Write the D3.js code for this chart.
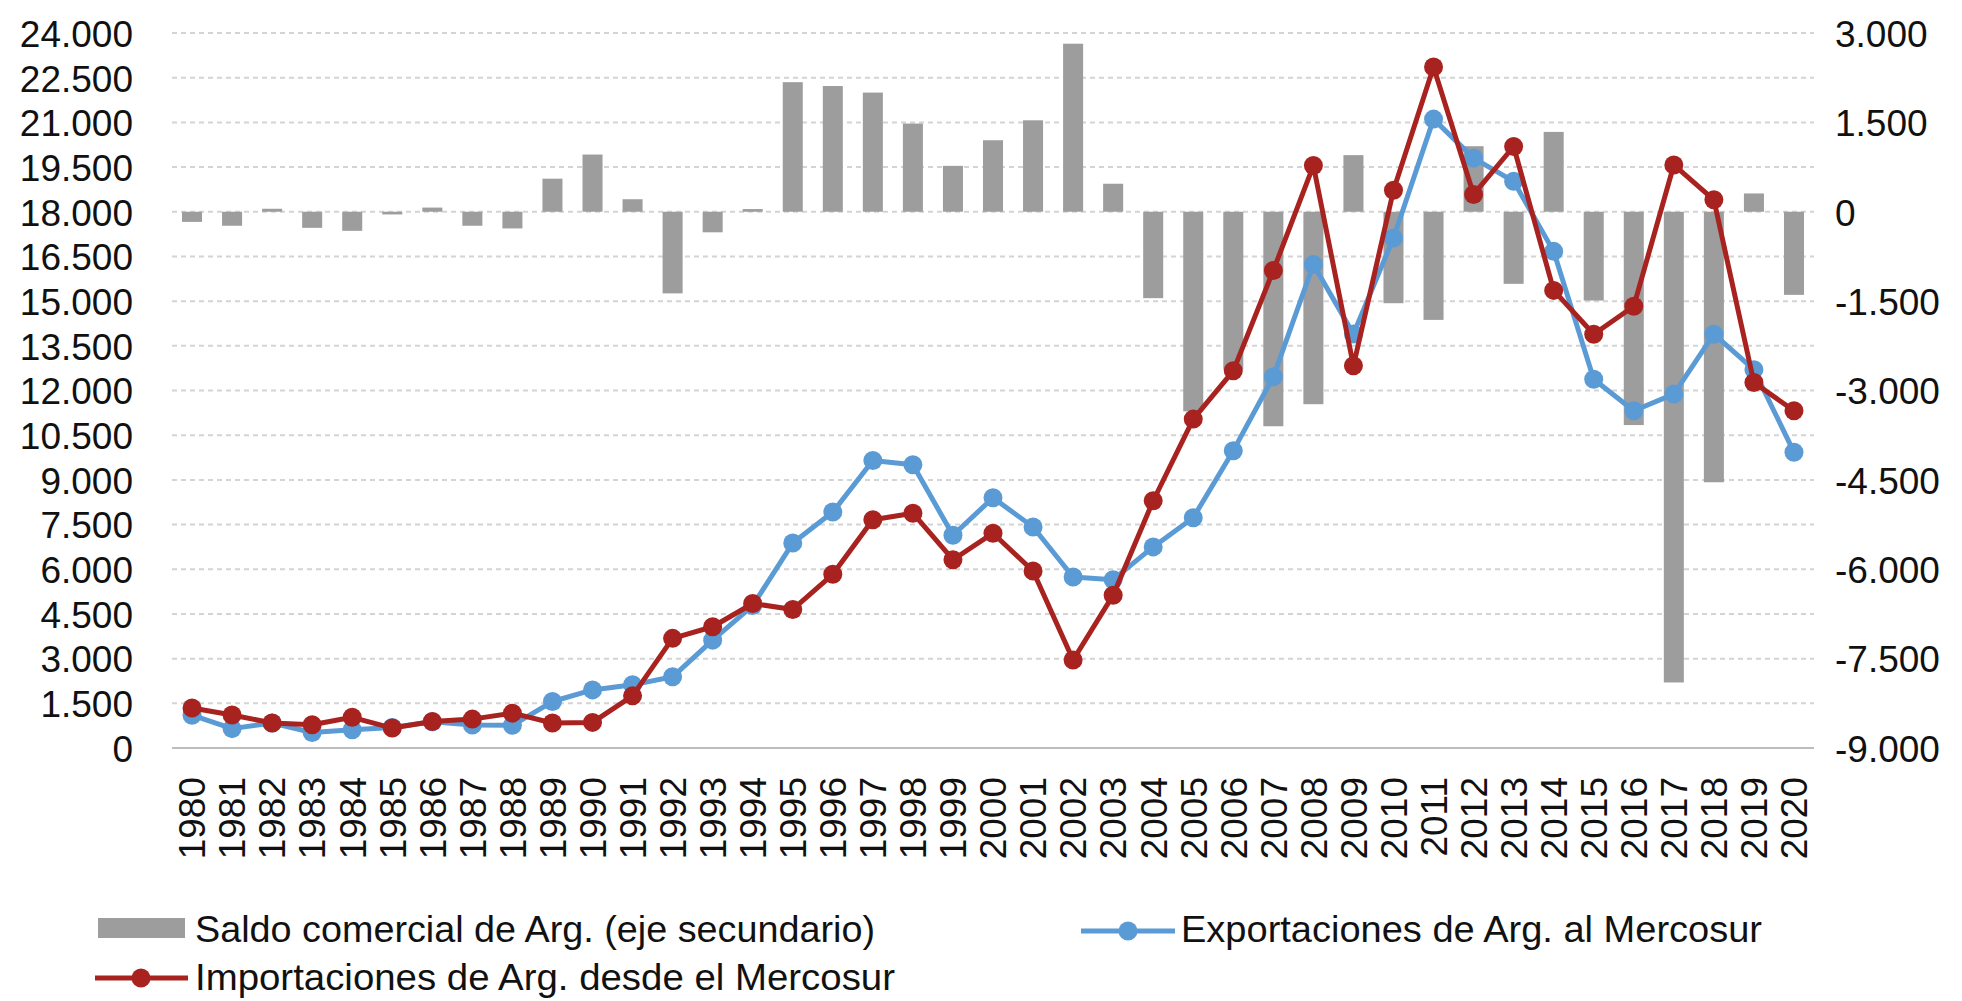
<!DOCTYPE html>
<html>
<head>
<meta charset="utf-8">
<script src="https://cdn.jsdelivr.net/npm/d3@7"></script>
<style>
  body { margin: 0; background: #fff; }
  text { font-family: "Liberation Sans", Arial, sans-serif; fill: #111; }
</style>
</head>
<body>
<svg class="chart"></svg>
<script>

var years = ["1980","1981","1982","1983","1984","1985","1986","1987","1988","1989",
             "1990","1991","1992","1993","1994","1995","1996","1997","1998","1999",
             "2000","2001","2002","2003","2004","2005","2006","2007","2008","2009",
             "2010","2011","2012","2013","2014","2015","2016","2017","2018","2019","2020"];

// Saldo comercial (eje secundario)
var saldo = [-170, -235, 50, -270, -320, -45, 70, -235, -280, 555,
             960, 210, -1370, -345, 45, 2175, 2110, 2000, 1480, 770,
             1200, 1535, 2820, 470, -1450, -3350, -2650, -3600, -3230, 950,
             -1535, -1815, 1100, -1210, 1340, -1490, -3580, -7900, -4540, 307, -1395];

// Exportaciones de Arg. al Mercosur
var exportaciones = [1100, 650, 840, 520, 610, 690, 880, 770, 760, 1560,
                     1950, 2120, 2390, 3620, 4780, 6880, 7920, 9650, 9510, 7140,
                     8400, 7420, 5740, 5650, 6750, 7730, 9980, 12460, 16230, 13900,
                     17120, 21110, 19800, 19020, 16670, 12380, 11320, 11880, 13890, 12700, 9930];

// Importaciones de Arg. desde el Mercosur
var importaciones = [1340, 1110, 840, 780, 1030, 670, 890, 970, 1170, 840,
                     860, 1750, 3680, 4070, 4850, 4650, 5830, 7660, 7880, 6320,
                     7210, 5940, 2955, 5130, 8300, 11040, 12660, 16030, 19550, 12830,
                     18720, 22860, 18580, 20190, 15360, 13890, 14830, 19570, 18400, 12270, 11320];

var leftTicks = [0, 1500, 3000, 4500, 6000, 7500, 9000, 10500, 12000, 13500,
                 15000, 16500, 18000, 19500, 21000, 22500, 24000];
var rightTicks = [-9000, -7500, -6000, -4500, -3000, -1500, 0, 1500, 3000];

var legendLabels = ["Saldo comercial de Arg. (eje secundario)",
                    "Exportaciones de Arg. al Mercosur",
                    "Importaciones de Arg. desde el Mercosur"];

var width = 1962, height = 1001;
var margin = {left: 172, right: 1814, top: 33, bottom: 748};

var fmt = d3.formatLocale({decimal: ",", thousands: ".", grouping: [3], currency: ["$", ""], minus: "-"}).format(",d");

var x = d3.scaleBand().domain(years).range([margin.left, margin.right]).paddingInner(0.5).paddingOuter(0.25),
    yL = d3.scaleLinear().domain([0, 24000]).range([margin.bottom, margin.top]),
    yR = d3.scaleLinear().domain([-9000, 3000]).range([margin.bottom, margin.top]);

var cx = function(i) { return x(years[i]) + x.bandwidth() / 2; };

var svg = d3.select(".chart")
    .attr("width", width)
    .attr("height", height);

// gridlines
svg.append("g").selectAll("line")
    .data(leftTicks.filter(function(d) { return d > 0; }))
  .enter().append("line")
    .attr("x1", margin.left).attr("x2", margin.right)
    .attr("y1", function(d) { return yL(d); })
    .attr("y2", function(d) { return yL(d); })
    .attr("stroke", "#d4d4d4")
    .attr("stroke-width", 2)
    .attr("stroke-dasharray", "5,4");

function styleTicks(sel) {
  sel.attr("dy", "0.36em")
     .style("font-size", "37px")
     .style("font-family", "'Liberation Sans', Arial, sans-serif")
     .attr("fill", "#111");
}

// left axis
var yAxisL = d3.axisLeft(yL).tickValues(leftTicks).tickFormat(fmt).tickSize(0).tickPadding(0);
svg.append("g")
    .attr("transform", "translate(133,0)")
    .call(yAxisL)
    .call(function(g) { g.select(".domain").remove(); })
    .selectAll("text").call(styleTicks);

// right axis
var yAxisR = d3.axisRight(yR).tickValues(rightTicks).tickFormat(fmt).tickSize(0).tickPadding(0);
svg.append("g")
    .attr("transform", "translate(1835,0)")
    .call(yAxisR)
    .call(function(g) { g.select(".domain").remove(); })
    .selectAll("text").call(styleTicks);

// bars (secondary axis)
svg.append("g").selectAll("rect")
    .data(saldo)
  .enter().append("rect")
    .attr("x", function(d, i) { return x(years[i]); })
    .attr("width", x.bandwidth())
    .attr("y", function(d) { return Math.min(yR(d), yR(0)); })
    .attr("height", function(d) { return Math.abs(yR(d) - yR(0)); })
    .attr("fill", "#9d9d9d");

// x axis line
svg.append("line")
    .attr("x1", margin.left).attr("x2", margin.right)
    .attr("y1", yL(0)).attr("y2", yL(0))
    .attr("stroke", "#bdbdbd")
    .attr("stroke-width", 2);

// x labels
var xAxis = d3.axisBottom(x).tickSize(0).tickPadding(0);
svg.append("g")
    .attr("transform", "translate(0," + yL(0) + ")")
    .call(xAxis)
    .call(function(g) { g.select(".domain").remove(); })
    .selectAll("text")
      .call(styleTicks)
      .attr("transform", "translate(0,29) rotate(-90)")
      .attr("x", 0).attr("y", 0)
      .style("text-anchor", "end");

function series(values, color) {
  var line = d3.line()
      .x(function(d, i) { return cx(i); })
      .y(function(d) { return yL(d); });
  svg.append("path")
      .datum(values)
      .attr("d", line)
      .attr("fill", "none")
      .attr("stroke", color)
      .attr("stroke-width", 5)
      .attr("stroke-linejoin", "round");
  svg.append("g").selectAll("circle")
      .data(values)
    .enter().append("circle")
      .attr("cx", function(d, i) { return cx(i); })
      .attr("cy", function(d) { return yL(d); })
      .attr("r", 9.5)
      .attr("fill", color);
}

series(exportaciones, "#5b9bd5");
series(importaciones, "#a8231f");

// legend
var lg = svg.append("g");
lg.append("rect")
    .attr("x", 98).attr("y", 918).attr("width", 87).attr("height", 20)
    .attr("fill", "#9d9d9d");
lg.append("text").attr("x", 195).attr("y", 942)
    .attr("textLength", 680).attr("lengthAdjust", "spacingAndGlyphs")
    .style("font-size", "36px").text(legendLabels[0]);

lg.append("line").attr("x1", 1081).attr("x2", 1175).attr("y1", 931).attr("y2", 931)
    .attr("stroke", "#5b9bd5").attr("stroke-width", 5);
lg.append("circle").attr("cx", 1128).attr("cy", 931).attr("r", 9.5).attr("fill", "#5b9bd5");
lg.append("text").attr("x", 1181).attr("y", 942)
    .attr("textLength", 581).attr("lengthAdjust", "spacingAndGlyphs")
    .style("font-size", "36px").text(legendLabels[1]);

lg.append("line").attr("x1", 95).attr("x2", 188).attr("y1", 978).attr("y2", 978)
    .attr("stroke", "#a8231f").attr("stroke-width", 5);
lg.append("circle").attr("cx", 141).attr("cy", 978).attr("r", 9.5).attr("fill", "#a8231f");
lg.append("text").attr("x", 195).attr("y", 990)
    .attr("textLength", 700).attr("lengthAdjust", "spacingAndGlyphs")
    .style("font-size", "36px").text(legendLabels[2]);

</script>
</body>
</html>
